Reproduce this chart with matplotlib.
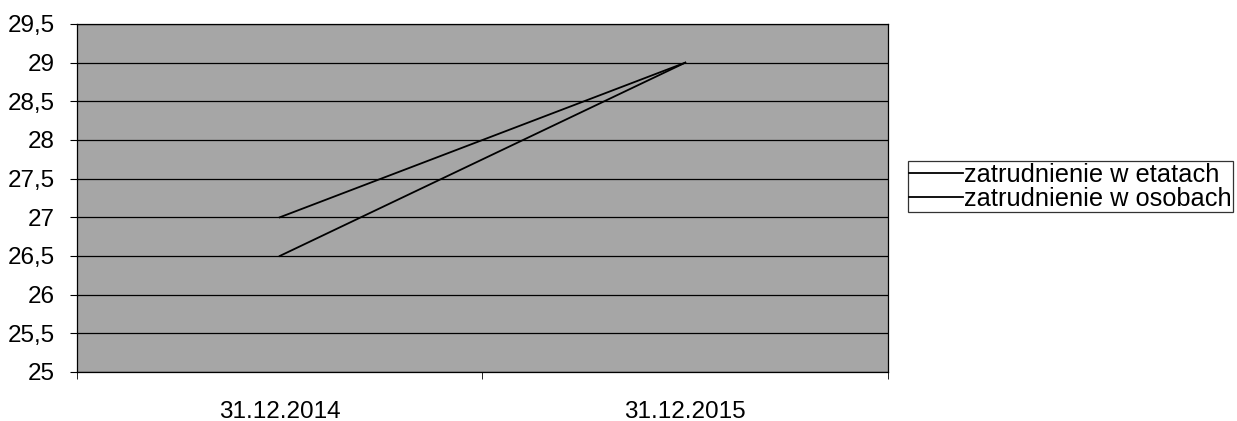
import matplotlib
matplotlib.use('Agg')
import matplotlib.pyplot as plt
from matplotlib.ticker import FuncFormatter, FixedLocator

plt.rcParams['font.family'] = ['Liberation Sans', 'DejaVu Sans']

categories = ['31.12.2014', '31.12.2015']
etaty = [27.0, 29.0]
osoby = [26.5, 29.0]
series_names = ['zatrudnienie w etatach', 'zatrudnienie w osobach']

fig = plt.figure(figsize=(12.37, 4.21), dpi=100)
ax = fig.add_axes([0.0622, 0.1164, 0.6557, 0.8266])
ax.set_facecolor('#a6a6a6')

x = list(range(len(categories)))
ax.plot(x, etaty, color='black', lw=1.3, label=series_names[0])
ax.plot(x, osoby, color='black', lw=1.3, label=series_names[1])

ax.set_xlim(-0.5, len(categories) - 0.5)
ax.set_ylim(25, 29.5)
yt = [25 + 0.5 * i for i in range(10)]
ax.set_yticks(yt)
ax.yaxis.set_major_formatter(FuncFormatter(lambda v, p: ('%g' % v).replace('.', ',')))
ax.grid(axis='y', color='black', lw=0.9)
ax.set_axisbelow(True)

ax.set_xticks(x)
ax.set_xticklabels(categories)
ax.xaxis.set_minor_locator(FixedLocator([-0.5, 0.5, 1.5]))
ax.tick_params(axis='x', which='major', length=0, pad=21)
ax.tick_params(axis='x', which='minor', length=5, direction='out')
ax.tick_params(axis='y', length=5, direction='out', pad=11)
ax.tick_params(labelsize=17.5)

for s in ax.spines.values():
    s.set_color('black')
    s.set_linewidth(0.9)

leg = fig.legend(loc='upper left', bbox_to_anchor=(0.734, 0.617), fontsize=18.3,
                 frameon=True, fancybox=False, edgecolor='black', handlelength=2.1,
                 handletextpad=0.05, borderpad=0.05, labelspacing=0.02, borderaxespad=0)
leg.get_frame().set_linewidth(0.9)

fig.savefig('out.png', dpi=100)
